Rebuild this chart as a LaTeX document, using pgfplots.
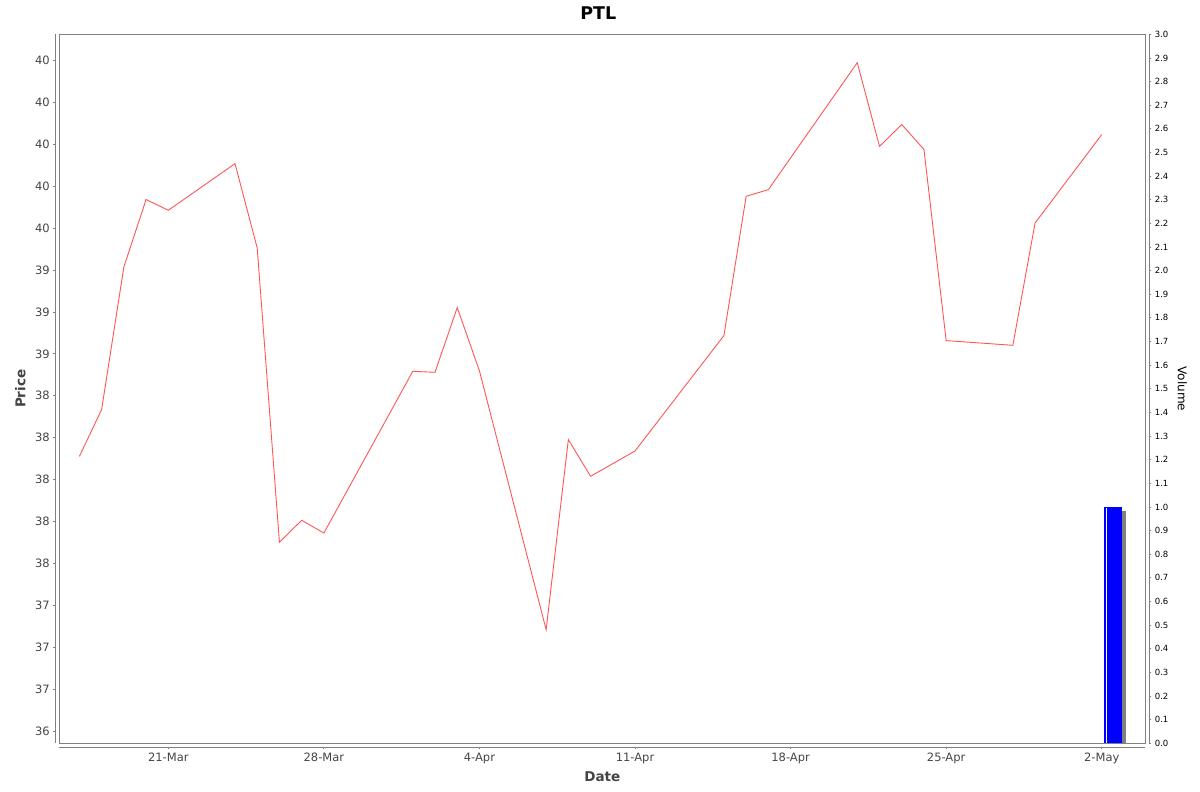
\documentclass[border=0pt]{standalone}
\usepackage{fontspec}
\setmainfont{DejaVu Sans}
\usepackage{pgfplots}
\usepackage{pgfplotstable}
\pgfplotsset{compat=1.18}

\definecolor{pricered}{RGB}{255,85,85}
\definecolor{axgray}{RGB}{128,128,128}
\definecolor{lblgray}{RGB}{68,68,68}

% day 0 = 21-Mar
\pgfplotstableread{
day price
-4 38.139
-3 38.418
-2 39.268
-1 39.670
0 39.606
3 39.884
4 39.381
5 37.627
6 37.758
7 37.682
11 38.646
12 38.640
13 39.026
14 38.648
17 37.106
18 38.239
19 38.020
21 38.171
25 38.859
26 39.689
27 39.729
31 40.486
32 39.987
33 40.117
34 39.969
35 38.829
38 38.801
39 39.530
42 40.057
}\pricetable

\begin{document}
\begin{tikzpicture}[x=1pt,y=1pt]
\path[use as bounding box] (0,0) rectangle (1200,792);

\begin{axis}[
  at={(59.3pt,48.7pt)}, anchor=south west,
  scale only axis, width=1086pt, height=709pt,
  xmin=-4.905, xmax=43.96, ymin=36.4285, ymax=40.655,
  clip=false,
  axis x line*=bottom, axis y line*=left,
  axis x line shift=4pt, axis y line shift=4pt,
  axis line style={axgray, -, line width=0.9pt},
  tick style={axgray, line width=0.8pt}, tick align=outside, major tick length=2pt,
  xtick={0,7,14,21,28,35,42},
  xticklabels={21-Mar,28-Mar,4-Apr,11-Apr,18-Apr,25-Apr,2-May},
  ytick={36.5,36.75,37,37.25,37.5,37.75,38,38.25,38.5,38.75,39,39.25,39.5,39.75,40,40.25,40.5},
  yticklabels={36,37,37,37,38,38,38,38,38,39,39,39,40,40,40,40,40},
  ticklabel style={font=\fontsize{11.5}{12}\selectfont, text=lblgray},
  title={PTL},
  title style={at={(axis description cs:0.5,1)}, anchor=center, yshift=15pt, xshift=-4pt,
    font=\bfseries\fontsize{17.5}{20}\selectfont},
  xlabel={Date},
  xlabel style={at={(axis description cs:0.5,0)}, anchor=center, yshift=-33pt,
    font=\bfseries\fontsize{13.5}{15}\selectfont, text=lblgray},
  ylabel={Price},
  ylabel style={at={(axis description cs:0,0.5)}, anchor=center, xshift=0pt, yshift=39pt,
    font=\bfseries\fontsize{13.5}{15}\selectfont, text=lblgray},
]
\draw[axgray, line width=0.9pt] (rel axis cs:0,0) rectangle (rel axis cs:1,1);
\addplot[pricered, line width=0.9pt, mark=none] table[x=day, y=price] {\pricetable};
\end{axis}

\begin{axis}[
  at={(59.3pt,48.7pt)}, anchor=south west,
  scale only axis, width=1086pt, height=709pt,
  xmin=-4.905, xmax=43.96, ymin=0, ymax=3,
  axis x line=none, axis y line*=right, axis y line shift=4pt,
  axis line style={axgray, -, line width=0.9pt},
  tick style={axgray, line width=0.8pt}, tick align=outside, major tick length=2pt,
  ytick={0,0.1,0.2,0.3,0.4,0.5,0.6,0.7,0.8,0.9,1.0,1.1,1.2,1.3,1.4,1.5,1.6,1.7,1.8,1.9,2.0,2.1,2.2,2.3,2.4,2.5,2.6,2.7,2.8,2.9,3.0},
  yticklabel style={font=\fontsize{8.5}{9}\selectfont, text=black,
    /pgf/number format/.cd, fixed, fixed zerofill, precision=1, assume math mode=true},
  ylabel={Volume},
  ylabel style={at={(axis description cs:1,0.5)}, anchor=center, rotate=180, xshift=0pt, yshift=37pt,
    font=\fontsize{12}{14}\selectfont, text=black},
]
\addplot[ybar, bar width=0.79, bar shift=0pt, fill=axgray, draw=none] coordinates {(42.685,0.983)};
\addplot[ybar, bar width=0.79, bar shift=0pt, fill=blue, draw=none] coordinates {(42.505,1)};
\addplot[ybar, bar width=0.06, bar shift=0pt, fill=white, draw=none] coordinates {(42.2,0.995)};
\end{axis}
\end{tikzpicture}
\end{document}
